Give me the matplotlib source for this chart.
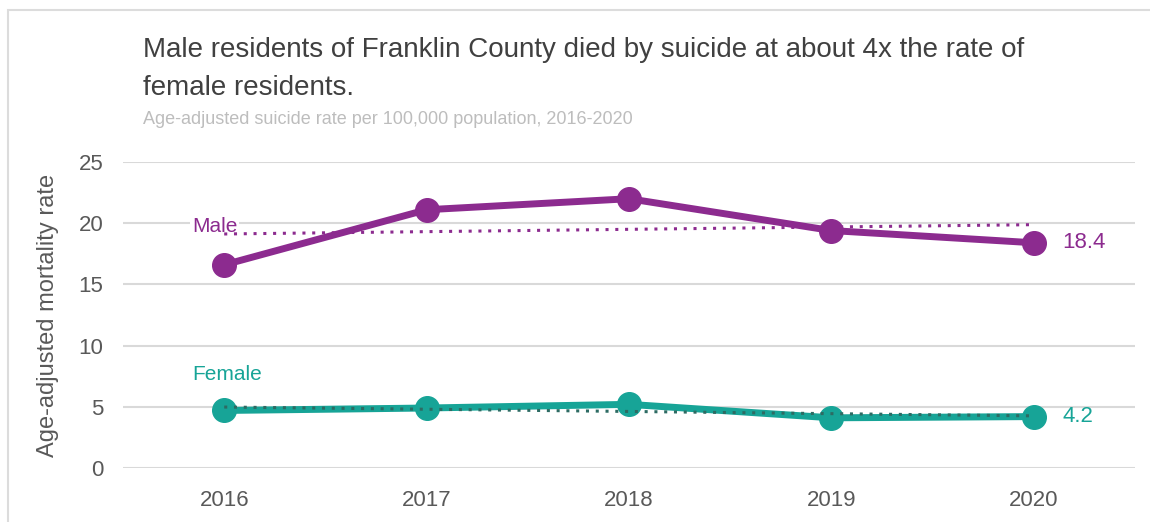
import numpy as np
import matplotlib.pyplot as plt
from matplotlib.patches import Rectangle

years = ["2016", "2017", "2018", "2019", "2020"]
male = [16.6, 21.1, 22.0, 19.4, 18.4]
female = [4.7, 4.9, 5.2, 4.1, 4.2]

PURPLE = "#8c2b8f"
TEAL = "#17a497"
GRAY = "#595959"

plt.rcParams["font.family"] = ["Liberation Sans Narrow", "Liberation Sans", "DejaVu Sans"]

fig = plt.figure(figsize=(11.5, 5.22), dpi=100)
fig.patch.set_facecolor("white")

# thin frame around the card
fig.add_artist(Rectangle((8 / 1150, -0.05), 1.2, 1 - 10 / 522 + 0.05,
                         transform=fig.transFigure, fill=False,
                         edgecolor="#dcdcdc", linewidth=1.5))

ax = fig.add_axes([123 / 1150, 1 - 468 / 522, (1135 - 123) / 1150, (468 - 162) / 522])
x = np.arange(len(years))

ax.plot(x, male, color=PURPLE, linewidth=5, marker="o", markersize=17, zorder=4)
ax.plot(x, female, color=TEAL, linewidth=5, marker="o", markersize=17, zorder=4)

# linear trend lines, dotted on top
for vals, col in [(male, PURPLE), (female, "#2d6b63")]:
    k, b = np.polyfit(x, vals, 1)
    ax.plot(x, k * x + b, linestyle=(0, (1, 2.2)), color=col, linewidth=2.2, zorder=5)

ax.text(x[-1] + 0.14, male[-1], f"{male[-1]}", color=PURPLE, fontsize=16,
        va="center", ha="left")
ax.text(x[-1] + 0.14, female[-1], f"{female[-1]}", color=TEAL, fontsize=16,
        va="center", ha="left")
ax.text(-0.16, 19.7, "Male", color=PURPLE, fontsize=15, va="center", ha="left",
        bbox=dict(facecolor="white", edgecolor="none", pad=1), zorder=2)
ax.text(-0.16, 7.6, "Female", color=TEAL, fontsize=15, va="center", ha="left")

ax.set_xlim(-0.5, len(years) - 0.5)
ax.set_ylim(0, 25)
ax.set_yticks([0, 5, 10, 15, 20, 25])
ax.set_xticks(x)
ax.set_xticklabels(years)
ax.grid(axis="y", color="#d9d9d9", linewidth=1.5)
ax.set_axisbelow(True)
for s in ax.spines.values():
    s.set_visible(False)
ax.tick_params(length=0, labelsize=16, colors=GRAY, pad=14)
ax.tick_params(axis="x", pad=16)
ax.set_ylabel("Age-adjusted mortality rate", fontsize=17, color=GRAY, labelpad=14)

fig.text(143 / 1150, 1 - 50 / 522, "Male residents of Franklin County died by suicide at about 4x the rate of",
         fontsize=20, color="#404040", va="center")
fig.text(143 / 1150, 1 - 88 / 522, "female residents.", fontsize=20, color="#404040", va="center")
fig.text(143 / 1150, 1 - 119 / 522, "Age-adjusted suicide rate per 100,000 population, 2016-2020",
         fontsize=13, color="#bdbdbd", va="center")

fig.savefig("out.png", dpi=100)
